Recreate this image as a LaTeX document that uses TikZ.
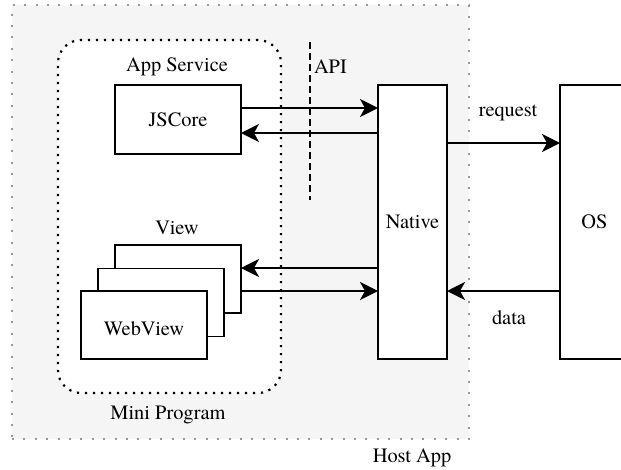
\documentclass[tikz,border=0pt]{standalone}
\usepackage{fontspec}
\setmainfont{texgyretermes}[Extension=.otf, UprightFont=*-regular]
\usetikzlibrary{arrows.meta,backgrounds}
\definecolor{hostfill}{HTML}{F5F5F5}
\definecolor{hostdot}{HTML}{999999}
\definecolor{boxfill}{HTML}{FFFFFF}
\begin{document}
\begin{tikzpicture}[x=1pt,y=-1pt,
  font=\rmfamily\fontsize{20.4}{24}\selectfont,
  every node/.style={inner sep=0pt, outer sep=0pt},
  host/.style={draw=hostdot, line width=2pt, dash pattern=on 2pt off 9.4pt},
  mini/.style={draw=black, line width=2.2pt, dash pattern=on 2.2pt off 5.8pt, rounded corners=23pt},
  box/.style={draw=black, fill=boxfill, line width=1.7pt},
  lbl/.style={text=black},
  arr/.style={line width=2pt, -{Stealth[length=18pt,width=18pt,inset=5pt]}},
  apiline/.style={line width=2pt, dash pattern=on 7pt off 4pt}
]
\useasboundingbox (0,0) rectangle (621,469);

% containers
\node[host, minimum width=457pt, minimum height=434pt] (host) at (240.5,222) {};
\node[mini, minimum width=223pt, minimum height=353pt] (mini) at (169.5,216.5) {};

% labels
\node[lbl] (hostL) at (412,458) {Host App};
\node[lbl] (miniL) at (168,415) {Mini Program};
\node[lbl] (svcL) at (177,67) {App Service};
\node[lbl] (viewL) at (177,228) {View};
\node[lbl, anchor=west] (apiL) at (314,67) {API};
\node[lbl] (reqL) at (508,113) {request};
\node[lbl] (dataL) at (509,318) {data};

% API line
\coordinate (api1) at (310,42);
\coordinate (api2) at (310,200);
\draw[apiline] (api1) -- (api2);

% boxes
\node[box, minimum width=126pt, minimum height=69pt] (jscore) at (178,119.5) {JSCore};
\node[box, minimum width=126pt, minimum height=68pt] (view3) at (178,279) {};
\node[box, minimum width=126pt, minimum height=68pt] (view2) at (161,302.5) {};
\node[box, minimum width=126pt, minimum height=68pt] (view1) at (144,325) {};
\node at (144,329) (wvL) {WebView};
\node[box, minimum width=69pt, minimum height=274pt] (native) at (412.5,222) {Native};
\node[box, minimum width=69pt, minimum height=274pt] (os) at (594.5,222) {OS};

% host background with holes for the mini program area and Native
\begin{scope}[on background layer]
  \fill[hostfill, even odd rule]
    (host.north west) rectangle (host.south east)
    {[rounded corners=23pt] (mini.north west) rectangle (mini.south east)}
    (native.north west) rectangle (native.south east);
\end{scope}

% connectors
\coordinate (c1) at ([yshift=11.5pt]jscore.east);
\draw[arr] (c1) -- (c1 -| native.west);
\coordinate (c2) at ([yshift=-13.5pt]jscore.east);
\draw[arr] (c2 -| native.west) -- (c2);
\coordinate (c3) at ([yshift=11pt]view3.east);
\draw[arr] (c3 -| native.west) -- (c3);
\coordinate (c4) at ([yshift=-12pt]view3.east);
\draw[arr] (c4) -- (c4 -| native.west);
\coordinate (c5) at ([yshift=79pt]native.east);
\draw[arr] (c5) -- (c5 -| os.west);
\coordinate (c6) at ([yshift=-69pt]native.east);
\draw[arr] (c6 -| os.west) -- (c6);
\end{tikzpicture}
\end{document}
